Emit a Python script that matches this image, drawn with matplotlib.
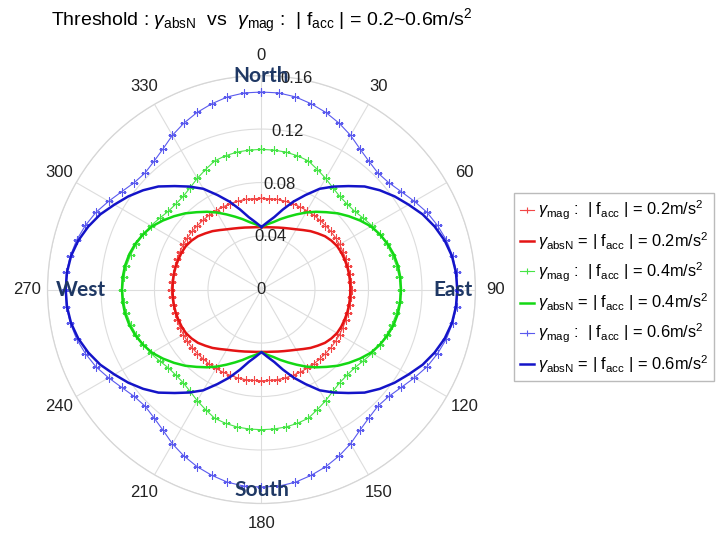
import numpy as np
import matplotlib
matplotlib.use("Agg")
import matplotlib.pyplot as plt

plt.rcParams['font.family'] = ['Liberation Sans', 'DejaVu Sans']
plt.rcParams['mathtext.fontset'] = 'custom'
plt.rcParams['mathtext.rm'] = 'Liberation Sans'
plt.rcParams['mathtext.it'] = 'Liberation Sans:italic'

# quadrant readings, heading 0..90 deg in 5 deg steps (chart is mirror symmetric)
quad_deg = list(range(0, 95, 5))
mag_02 = [0.0682, 0.0682, 0.0684, 0.0684, 0.0683, 0.0682, 0.0681, 0.0680, 0.0678, 0.0677,
          0.0677, 0.0676, 0.0674, 0.0672, 0.0671, 0.0670, 0.0670, 0.0672, 0.0675]
abs_02 = [0.0466, 0.0468, 0.0472, 0.0480, 0.0490, 0.0503, 0.0520, 0.0543, 0.0570, 0.0594,
          0.0620, 0.0638, 0.0652, 0.0658, 0.0661, 0.0664, 0.0665, 0.0665, 0.0665]
mag_04 = [0.1048, 0.1047, 0.1044, 0.1036, 0.1024, 0.0990, 0.0960, 0.0930, 0.0910, 0.0905,
          0.0910, 0.0930, 0.0955, 0.0975, 0.0995, 0.1012, 0.1025, 0.1035, 0.1040]
abs_04 = [0.0468, 0.0490, 0.0512, 0.0545, 0.0580, 0.0620, 0.0665, 0.0710, 0.0755, 0.0806,
          0.0853, 0.0900, 0.0945, 0.0977, 0.1003, 0.1023, 0.1036, 0.1042, 0.1043]
mag_06 = [0.1477, 0.1476, 0.1463, 0.1438, 0.1409, 0.1373, 0.1332, 0.1284, 0.1251, 0.1232,
          0.1243, 0.1276, 0.1320, 0.1366, 0.1401, 0.1431, 0.1451, 0.1465, 0.1466]
abs_06 = [0.0468, 0.0505, 0.0550, 0.0620, 0.0700, 0.0780, 0.0870, 0.0940, 0.1010, 0.1090,
          0.1155, 0.1215, 0.1270, 0.1330, 0.1378, 0.1418, 0.1446, 0.1460, 0.1464]

labels = [r'$\gamma_{\mathrm{mag}}$ :  | f$_{\mathrm{acc}}$ | = 0.2m/s$^2$',
          r'$\gamma_{\mathrm{absN}}$ = | f$_{\mathrm{acc}}$ | = 0.2m/s$^2$',
          r'$\gamma_{\mathrm{mag}}$ :  | f$_{\mathrm{acc}}$ | = 0.4m/s$^2$',
          r'$\gamma_{\mathrm{absN}}$ = | f$_{\mathrm{acc}}$ | = 0.4m/s$^2$',
          r'$\gamma_{\mathrm{mag}}$ :  | f$_{\mathrm{acc}}$ | = 0.6m/s$^2$',
          r'$\gamma_{\mathrm{absN}}$ = | f$_{\mathrm{acc}}$ | = 0.6m/s$^2$']
r_ticks = [0.04, 0.08, 0.12, 0.16]
theta_ticks = list(range(0, 360, 30))
directions = {'North': (0, 0.160), 'East': (90, 0.143), 'South': (180, 0.1499), 'West': (270, 0.1353)}


def full_circle(q):
    # mirror the 0..90 quadrant to the full turn and close the curve
    half = q + q[-2::-1]
    full = half + half[-2:0:-1]
    return full + full[:1]


theta = np.deg2rad(np.arange(0, 365, 5))

fig = plt.figure(figsize=(7.26, 5.41), dpi=100)
ax = fig.add_axes([0.0654, 0.0693, 0.5895, 0.791], projection='polar')
ax.set_theta_zero_location('N')
ax.set_theta_direction(-1)
ax.set_ylim(0, 0.16)

series = [(mag_02, '#f24646', 0.8, '+'), (abs_02, '#e41414', 1.8, None),
          (mag_04, '#46e446', 0.8, '+'), (abs_04, '#14d814', 1.8, None),
          (mag_06, '#5a5aee', 0.8, '+'), (abs_06, '#1414c8', 1.8, None)]
for (vals, col, lw, mk), lab in zip(series, labels):
    ax.plot(theta, full_circle(vals), color=col, lw=lw, marker=mk, ms=6, mew=0.8, label=lab)

ax.set_thetagrids(theta_ticks, [str(t) for t in theta_ticks], fontsize=12, color='#222222')
ax.xaxis.set_tick_params(pad=4)
ax.set_yticks(r_ticks)
ax.set_yticklabels([])
ax.grid(color='#dddddd', lw=0.8)
ax.spines['polar'].set_color('#d6d6d6')
ax.spines['polar'].set_linewidth(0.9)

ax.text(0, 0, '0', ha='center', va='center', fontsize=12, color='#222222')
for r in r_ticks:
    ax.text(np.deg2rad(9.5), r, f'{r:g}', ha='center', va='center', fontsize=12, color='#222222')

for name, (ang, r) in directions.items():
    ax.text(np.deg2rad(ang), r, name, ha='center', va='center', fontsize=15,
            fontweight='bold', family='Lato', color='#1f3864')

fig.text(0.36, 0.962, r'Threshold : $\gamma_{\mathrm{absN}}$  vs  $\gamma_{\mathrm{mag}}$ :  | f$_{\mathrm{acc}}$ | = 0.2~0.6m/s$^2$',
         ha='center', va='center', fontsize=14)

fig.legend(loc='upper left', bbox_to_anchor=(0.708, 0.643), borderaxespad=0, fontsize=11.8,
           handlelength=0.9, handletextpad=0.2, labelspacing=0.5, fancybox=False,
           edgecolor='#aaaaaa', borderpad=0.35, markerscale=0.8)

fig.savefig('out.png', dpi=100)
